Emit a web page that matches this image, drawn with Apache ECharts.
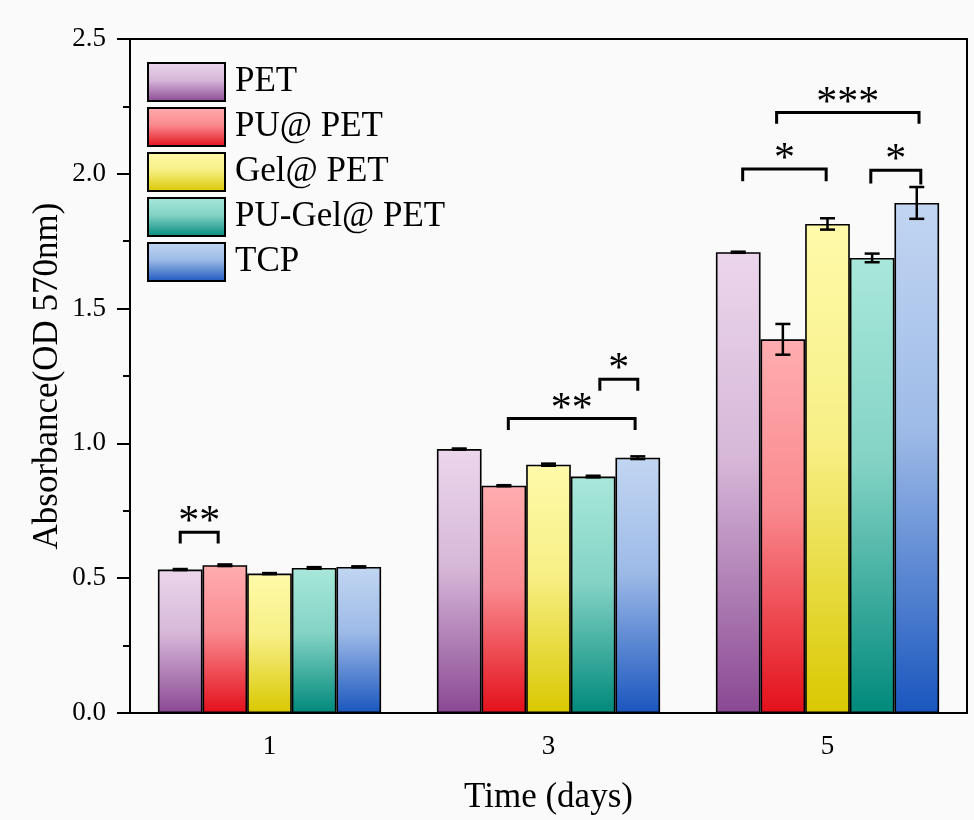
<!DOCTYPE html>
<html>
<head>
<meta charset="utf-8">
<script src="https://cdn.jsdelivr.net/npm/echarts@6/dist/echarts.min.js"></script>
<style>
  html, body { margin: 0; padding: 0; background: #fafafa; }
  #chart { width: 974px; height: 820px; }
</style>
</head>
<body>
<div id="chart"></div>
<script>
const days = ["1", "3", "5"];
const groups = ["PET", "PU@ PET", "Gel@ PET", "PU-Gel@ PET", "TCP"];

// mean absorbance per group, one value per day
const petValues = [0.532, 0.979, 1.709];
const puValues = [0.548, 0.843, 1.386];
const gelValues = [0.517, 0.921, 1.814];
const puGelValues = [0.538, 0.877, 1.688];
const tcpValues = [0.542, 0.947, 1.892];

// standard deviations
const petErr = [0.002, 0.002, 0.002];
const puErr = [0.003, 0.002, 0.057];
const gelErr = [0.002, 0.004, 0.021];
const puGelErr = [0.003, 0.003, 0.016];
const tcpErr = [0.002, 0.005, 0.059];

// [day index, from bar, to bar, bracket top, leg bottom left, leg bottom right]
const brackets = [
  [0, 0, 0.85, 0.670, 0.629, 0.629],
  [1, 1.1, 3.94, 1.092, 1.050, 1.050],
  [1, 3.15, 4.0, 1.238, 1.195, 1.195],
  [2, 0.86, 4.05, 2.227, 2.186, 2.186],
  [2, 0.1, 1.97, 2.018, 1.972, 1.972],
  [2, 2.97, 4.09, 2.013, 1.964, 1.960],
];
const bracketLabels = ["**", "**", "*", "***", "*", "*"];

const topColors = ["#ecd6ec", "#ffadb0", "#fffaaa", "#a8e8da", "#c2d6f2"];
const bottomColors = ["#8a4893", "#e3101b", "#d9c800", "#00897b", "#1a56be"];

const allValues = [petValues, puValues, gelValues, puGelValues, tcpValues];
const allErr = [petErr, puErr, gelErr, puGelErr, tcpErr];

const FONT = "Liberation Serif";

const mix = (a, b, t) => {
  const pa = parseInt(a.slice(1), 16), pb = parseInt(b.slice(1), 16);
  const ch = (p, s) => (p >> s) & 255;
  const c = [16, 8, 0].map((s) => Math.round(ch(pa, s) * (1 - t) + ch(pb, s) * t));
  return "rgb(" + c.join(",") + ")";
};

const barGradient = (i) =>
  new echarts.graphic.LinearGradient(0, 0, 0, 1, [
    { offset: 0, color: topColors[i] },
    { offset: 0.45, color: mix(topColors[i], bottomColors[i], 0.22) },
    { offset: 1, color: bottomColors[i] },
  ]);

const chart = echarts.init(document.getElementById("chart"));

const barWidthOf = (api) => (api.size([1, 0])[0] * 0.8) / groups.length;
const barX = (api, cat, bar) =>
  api.coord([cat, 0])[0] + (bar - (groups.length - 1) / 2) * barWidthOf(api);

const errData = [];
allValues.forEach((vals, g) =>
  vals.forEach((v, d) => errData.push([d, g, v, allErr[g][d]]))
);

const barSeries = groups.map((name, i) => ({
  name: name,
  type: "bar",
  barGap: "0%",
  barCategoryGap: "20%",
  data: allValues[i],
  itemStyle: {
    color: barGradient(i),
    borderColor: "#000",
    borderWidth: 1.6,
  },
}));

const option = {
  backgroundColor: "#fafafa",
  animation: false,
  grid: {
    left: 130,
    right: 7,
    top: 39,
    bottom: 107,
    show: true,
    borderColor: "#000",
    borderWidth: 2,
  },
  legend: {
    data: groups,
    orient: "vertical",
    left: 142,
    top: 57,
    itemWidth: 77,
    itemHeight: 38,
    itemGap: 5,
    icon: "rect",
    textStyle: {
      fontFamily: FONT,
      fontSize: 35,
      color: "#000",
      padding: [0, 0, 0, 5],
    },
  },
  xAxis: {
    type: "category",
    data: days,
    name: "Time (days)",
    nameLocation: "middle",
    nameGap: 67,
    nameMoveOverlap: false,
    nameTextStyle: { fontFamily: FONT, fontSize: 35, color: "#000" },
    axisLine: { lineStyle: { color: "#000", width: 2 } },
    axisTick: { alignWithLabel: true, length: 10, lineStyle: { color: "#000", width: 2 } },
    axisLabel: { fontFamily: FONT, fontSize: 27, color: "#000", margin: 20 },
  },
  yAxis: {
    type: "value",
    min: 0,
    max: 2.5,
    interval: 0.5,
    name: "Absorbance(OD 570nm)",
    nameLocation: "middle",
    nameGap: 65,
    nameMoveOverlap: false,
    nameTextStyle: { fontFamily: FONT, fontSize: 35, color: "#000" },
    axisLine: { show: true, lineStyle: { color: "#000", width: 2 } },
    axisTick: { show: true, length: 13, lineStyle: { color: "#000", width: 2 } },
    minorTick: { show: true, splitNumber: 2, length: 7, lineStyle: { color: "#000", width: 2 } },
    splitLine: { show: false },
    axisLabel: {
      fontFamily: FONT,
      fontSize: 27,
      color: "#000",
      margin: 24,
      formatter: (v) => v.toFixed(1),
    },
  },
  series: [
    ...barSeries,
    {
      type: "custom",
      name: "err",
      z: 5,
      data: errData,
      encode: { x: 0, y: 2 },
      renderItem: (params, api) => {
        const cat = api.value(0), bar = api.value(1);
        const v = api.value(2), e = api.value(3);
        const x = barX(api, cat, bar);
        const yTop = api.coord([cat, v + e])[1];
        const yBot = api.coord([cat, v - e])[1];
        const half = 7.5;
        const st = { stroke: "#000", lineWidth: 2.5 };
        return {
          type: "group",
          children: [
            { type: "line", shape: { x1: x, y1: yTop, x2: x, y2: yBot }, style: st },
            { type: "line", shape: { x1: x - half, y1: yTop, x2: x + half, y2: yTop }, style: st },
            { type: "line", shape: { x1: x - half, y1: yBot, x2: x + half, y2: yBot }, style: st },
          ],
        };
      },
    },
    {
      type: "custom",
      name: "sig",
      z: 5,
      data: brackets,
      encode: { x: 0, y: 3 },
      renderItem: (params, api) => {
        const cat = api.value(0);
        const x1 = barX(api, cat, api.value(1));
        const x2 = barX(api, cat, api.value(2));
        const yTop = api.coord([cat, api.value(3)])[1];
        const yL = api.coord([cat, api.value(4)])[1];
        const yR = api.coord([cat, api.value(5)])[1];
        return {
          type: "group",
          children: [
            {
              type: "polyline",
              shape: { points: [[x1, yL], [x1, yTop], [x2, yTop], [x2, yR]] },
              style: { stroke: "#000", lineWidth: 3, fill: null },
            },
            {
              type: "text",
              x: (x1 + x2) / 2,
              y: yTop + 12,
              style: {
                text: bracketLabels[params.dataIndex],
                fontFamily: FONT,
                fontSize: 42,
                fill: "#000",
                align: "center",
                verticalAlign: "bottom",
              },
            },
          ],
        };
      },
    },
  ],
};

chart.setOption(option);
</script>
</body>
</html>
